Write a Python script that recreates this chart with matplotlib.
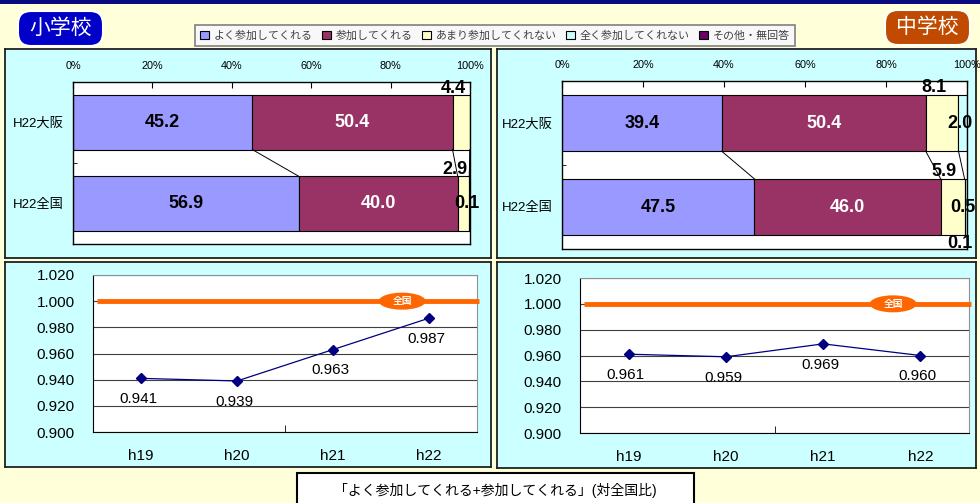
import numpy as np
import matplotlib
matplotlib.use("Agg")
import matplotlib.pyplot as plt
from matplotlib.patches import Rectangle, FancyBboxPatch, Patch, Ellipse

plt.rcParams['font.family'] = ['Liberation Sans', 'Noto Sans CJK JP', 'DejaVu Sans']

# data
categories = ["H22大阪", "H22全国"]
answer_labels = ["よく参加してくれる", "参加してくれる", "あまり参加してくれない",
                 "全く参加してくれない", "その他・無回答"]
elem_osaka = [45.2, 50.4, 4.4, 0.0, 0.0]
elem_zenkoku = [56.9, 40.0, 2.9, 0.1, 0.0]
jr_osaka = [39.4, 50.4, 8.1, 2.0, 0.0]
jr_zenkoku = [47.5, 46.0, 5.9, 0.5, 0.1]

years = ["h19", "h20", "h21", "h22"]
elem_ratio = [0.941, 0.939, 0.963, 0.987]
jr_ratio = [0.961, 0.959, 0.969, 0.960]
national = 1.0

colors = ['#9999FF', '#993366', '#FFFFCC', '#CCFFFF', '#660066']

W, H = 980, 503
fig = plt.figure(figsize=(W / 100, H / 100), dpi=100, facecolor='#FFFFD9')


def px_box(x0, y0, x1, y1):
    return [x0 / W, 1 - y1 / H, (x1 - x0) / W, (y1 - y0) / H]


def panel(x0, y0, x1, y1):
    ax = fig.add_axes(px_box(x0, y0, x1, y1), zorder=0)
    ax.set_facecolor('#CCFFFF')
    ax.set_xticks([])
    ax.set_yticks([])
    for s in ax.spines.values():
        s.set_linewidth(1.3)
        s.set_color('#202020')
    return ax


# overlay in pixel coordinates for decorations
deco = fig.add_axes([0, 0, 1, 1], zorder=1)
deco.set_xlim(0, W)
deco.set_ylim(H, 0)
deco.axis('off')
deco.patch.set_alpha(0)

deco.add_patch(Rectangle((0, 0), W, 4, facecolor='#0A0A80', edgecolor='none'))


def badge(x0, y0, x1, y1, text, fc):
    deco.add_patch(FancyBboxPatch((x0, y0), x1 - x0, y1 - y0,
                                  boxstyle="round,pad=0,rounding_size=13",
                                  facecolor=fc, edgecolor='white', linewidth=1.5))
    deco.text((x0 + x1) / 2, (y0 + y1) / 2, text, color='white',
              fontsize=15, ha='center', va='center')

badge(18, 11, 103, 46, "小学校", '#0000C8')
badge(885, 10, 970, 45, "中学校", '#C04A00')

# caption box
deco.add_patch(Rectangle((297, 473), 694 - 297, 40, facecolor='white',
                         edgecolor='black', linewidth=1.5, clip_on=False))
deco.text(495, 491, "「よく参加してくれる+参加してくれる」(対全国比)",
          fontsize=10, ha='center', va='center')

# legend
handles = [Patch(facecolor=c, edgecolor='black', linewidth=0.8) for c in colors]
leg = fig.legend(handles, answer_labels, loc='center', bbox_to_anchor=(495 / W, 1 - 35.5 / H),
                 ncol=5, fontsize=7.9, handlelength=0.8, handleheight=0.8,
                 handletextpad=0.4, columnspacing=0.9, frameon=True, fancybox=False,
                 edgecolor='#808080', facecolor='#F8F8F8', borderpad=0.5, framealpha=1)
for t in leg.get_texts():
    t.set_color('#404040')
leg.get_frame().set_linewidth(1.2)

# panels
panel(5, 49, 491, 258)
panel(497, 49, 976, 258)
panel(5, 262, 491, 467)
panel(497, 262, 976, 468)


def stacked(box, top, bot):
    ax = fig.add_axes(px_box(*box), zorder=2)
    h = 0.67
    rows = [top, bot]
    for i, vals in enumerate(rows):
        left = 0.0
        for k, v in enumerate(vals):
            if v > 0:
                ax.barh(i, v, left=left, height=h, color=colors[k],
                        edgecolor='black', linewidth=0.8)
                x = left + v / 2
                if v >= 10:
                    ax.text(x, i, f"{v:.1f}", ha='center', va='center', fontsize=13,
                            fontweight='bold', color='white' if k == 1 else 'black')
                elif k == 2:
                    ax.annotate(f"{v:.1f}", (x, i - h / 2), xytext=(-6, -1),
                                textcoords='offset points', ha='center', va='bottom',
                                fontsize=13, fontweight='bold', annotation_clip=False)
                elif k == 3:
                    ax.annotate(f"{v:.1f}", (x, i), xytext=(-2, 0),
                                textcoords='offset points', ha='center', va='center',
                                fontsize=13, fontweight='bold', annotation_clip=False)
                else:
                    ax.annotate(f"{v:.1f}", (x, i + h / 2), xytext=(-5, 0),
                                textcoords='offset points', ha='center', va='top',
                                fontsize=13, fontweight='bold', annotation_clip=False)
            left += v
    # series lines
    ct = np.cumsum(top)
    cb = np.cumsum(bot)
    for k in range(len(colors) - 1):
        ax.plot([ct[k], cb[k]], [h / 2, 1 - h / 2], color='black', lw=0.7)
    ax.set_xlim(0, 100)
    ax.set_ylim(1.5, -0.5)
    ax.set_xticks(np.arange(0, 101, 20))
    ax.set_xticklabels([f"{p}%" for p in range(0, 101, 20)])
    ax.xaxis.tick_top()
    ax.tick_params(axis='x', direction='in', length=4, labelsize=7.8, pad=8)
    ax.set_yticks([0, 1])
    ax.set_yticklabels(categories, fontsize=9.5)
    ax.tick_params(axis='y', length=0, pad=7)
    ax.set_yticks([0.5], minor=True)
    ax.tick_params(axis='y', which='minor', direction='in', length=3)
    ax.set_facecolor('white')
    for s in ax.spines.values():
        s.set_linewidth(1.0)
    return ax


stacked((73, 82, 470, 244), elem_osaka, elem_zenkoku)
stacked((562, 81, 967, 249), jr_osaka, jr_zenkoku)


def ratio_chart(box, vals):
    ax = fig.add_axes(px_box(*box), zorder=2)
    x = np.arange(len(years))
    ax.set_xlim(-0.5, len(years) - 0.5)
    ax.set_ylim(0.9, 1.02)
    ax.set_facecolor('white')
    yt = np.arange(0.9, 1.0201, 0.02)
    ax.set_yticks(yt)
    ax.set_yticklabels([f"{v:.3f}" for v in yt])
    ax.tick_params(axis='y', length=0, labelsize=11, pad=13)
    ax.set_xticks(x)
    ax.set_xticklabels(years)
    ax.tick_params(axis='x', length=0, labelsize=11, pad=12)
    ax.set_xticks([1.5], minor=True)
    ax.tick_params(axis='x', which='minor', direction='in', length=5)
    ax.yaxis.grid(True, color='#404040', lw=0.8)
    ax.set_axisbelow(True)
    for s in ['top', 'right']:
        ax.spines[s].set_color('#909090')
    for s in ['left', 'bottom']:
        ax.spines[s].set_color('black')
    x0, x1 = ax.get_xlim()
    ax.plot([x0 + 0.04, x1 + 0.02], [national, national], color='#FF6600', lw=3.5,
            clip_on=False, zorder=3, solid_capstyle='butt')
    # 全国 tag: 47 x 17 px ellipse
    w_px = box[2] - box[0]
    h_px = box[3] - box[1]
    ew = 47 / w_px * (x1 - x0)
    eh = 17 / h_px * 0.12
    ax.add_patch(Ellipse((2.72, national), ew, eh, facecolor='#FF6600',
                         edgecolor='none', zorder=4))
    ax.text(2.72, national, "全国", color='white', fontsize=7, fontweight='bold',
            ha='center', va='center', zorder=5)
    ax.plot(x, vals, color='#000080', lw=0.9, marker='D', ms=5.5, zorder=5)
    for xi, v in zip(x, vals):
        ax.annotate(f"{v:.3f}", (xi, v), xytext=(-2, -15), textcoords='offset points',
                    ha='center', va='center', fontsize=11)
    return ax


ratio_chart((93, 275, 477, 432), elem_ratio)
ratio_chart((580, 278, 969, 433), jr_ratio)

fig.savefig("out.png", dpi=100, facecolor=fig.get_facecolor())
